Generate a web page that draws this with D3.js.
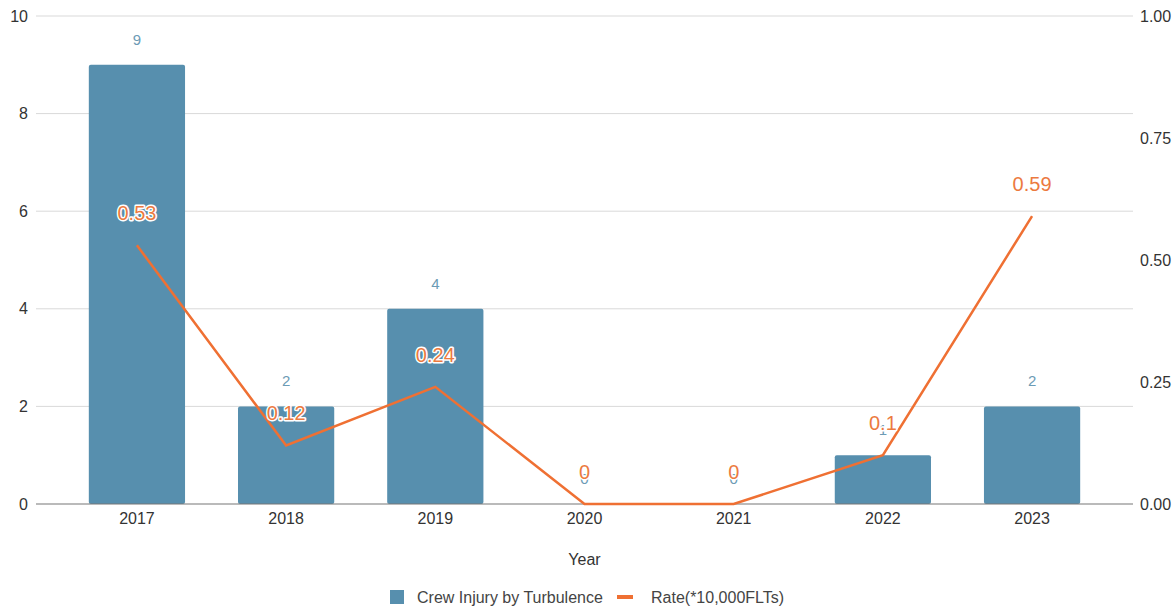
<!DOCTYPE html>
<html><head><meta charset="utf-8">
<script src="https://cdn.jsdelivr.net/npm/d3@7"></script>
<style>
html,body{margin:0;padding:0;background:#fff;}
svg{display:block;font-family:"Liberation Sans",Arial,sans-serif;}
</style></head>
<body><svg id="c" width="1173" height="607"></svg>
<script>
const years = ["2017","2018","2019","2020","2021","2022","2023"];
const injuries = [9,2,4,0,0,1,2];
const rates = [0.53,0.12,0.24,0,0,0.1,0.59];
const leftTicks = [0,2,4,6,8,10];
const rightTicks = [0,0.25,0.5,0.75,1];
const seriesNames = ["Crew Injury by Turbulence","Rate(*10,000FLTs)"];
const xTitle = "Year";

const barColor = "#578fae", lineColor = "#ef7033", labelBlue = "#6c9bb5", labelOrange = "#ec7a3f";
const FF = "Liberation Sans, Arial, sans-serif";
const svg = d3.select("#c");
const L = 36, R = 1133, T = 16, B = 504;

const x = d3.scaleBand().domain(years).range([L, R]).paddingInner(0.355).paddingOuter(0.354);
const yL = d3.scaleLinear().domain([0,10]).range([B, T]);
const yR = d3.scaleLinear().domain([0,1]).range([B, T]);

// gridlines
svg.append("g").selectAll("line").data(leftTicks.filter(d=>d>0)).join("line")
  .attr("x1", L).attr("x2", R).attr("y1", d=>yL(d)).attr("y2", d=>yL(d))
  .attr("stroke", "#d9d9d9").attr("stroke-width", 1);

// left axis labels
const ga = d3.axisLeft(yL).tickValues(leftTicks).tickSize(0).tickPadding(8);
const gl = svg.append("g").attr("transform", `translate(${L},0)`).call(ga);
gl.select(".domain").remove();
gl.selectAll("text").attr("font-size", 16).attr("fill", "#333").attr("font-family", FF);

// right axis labels
const ar = d3.axisRight(yR).tickValues(rightTicks).tickFormat(d3.format(".2f")).tickSize(0).tickPadding(7);
const gr = svg.append("g").attr("transform", `translate(${R},0)`).call(ar);
gr.select(".domain").remove();
gr.selectAll("text").attr("font-size", 16).attr("fill", "#333").attr("font-family", FF);

// bars
svg.append("g").selectAll("rect").data(injuries).join("rect")
  .attr("x", (d,i)=>x(years[i])).attr("width", x.bandwidth())
  .attr("y", d=>yL(d)).attr("height", d=>B - yL(d))
  .attr("rx", 2).attr("fill", barColor);

// baseline
svg.append("line").attr("x1", L).attr("x2", R).attr("y1", B).attr("y2", B).attr("stroke", "#777").attr("stroke-width", 1.2);

// x axis labels
const ax = d3.axisBottom(x).tickSize(0).tickPadding(9);
const gx = svg.append("g").attr("transform", `translate(0,${B})`).call(ax);
gx.select(".domain").remove();
gx.selectAll("text").attr("font-size", 16).attr("fill", "#333").attr("font-family", FF);

svg.append("text").attr("x", (L+R)/2).attr("y", 565).attr("text-anchor", "middle")
  .attr("font-size", 16).attr("fill", "#333").text(xTitle);

// bar labels
svg.append("g").selectAll("text").data(injuries).join("text")
  .attr("x", (d,i)=>x(years[i]) + x.bandwidth()/2).attr("y", d=>yL(d) - 20)
  .attr("text-anchor", "middle").attr("font-size", 15).attr("fill", labelBlue)
  .text(d=>d);

// line
const line = d3.line().x((d,i)=>x(years[i]) + x.bandwidth()/2).y(d=>yR(d));
svg.append("path").datum(rates).attr("d", line).attr("fill", "none")
  .attr("stroke", lineColor).attr("stroke-width", 2.5).attr("stroke-linejoin", "miter");

// rate labels with halo
svg.append("g").selectAll("text").data(rates).join("text")
  .attr("x", (d,i)=>x(years[i]) + x.bandwidth()/2).attr("y", d=>yR(d) - 25)
  .attr("text-anchor", "middle").attr("font-size", 20).attr("fill", labelOrange)
  .attr("stroke", "#fff").attr("stroke-width", 3).attr("paint-order", "stroke").attr("stroke-linejoin", "round")
  .text(d=>d3.format("")(d));

// legend
const lg = svg.append("g");
lg.append("rect").attr("x", 390).attr("y", 590).attr("width", 14).attr("height", 14).attr("fill", barColor);
lg.append("text").attr("x", 417).attr("y", 603).attr("font-size", 16).attr("fill", "#444").text(seriesNames[0]);
lg.append("rect").attr("x", 617).attr("y", 595).attr("width", 16).attr("height", 4).attr("fill", lineColor);
lg.append("text").attr("x", 651).attr("y", 603).attr("font-size", 16).attr("fill", "#444").text(seriesNames[1]);
</script></body></html>
